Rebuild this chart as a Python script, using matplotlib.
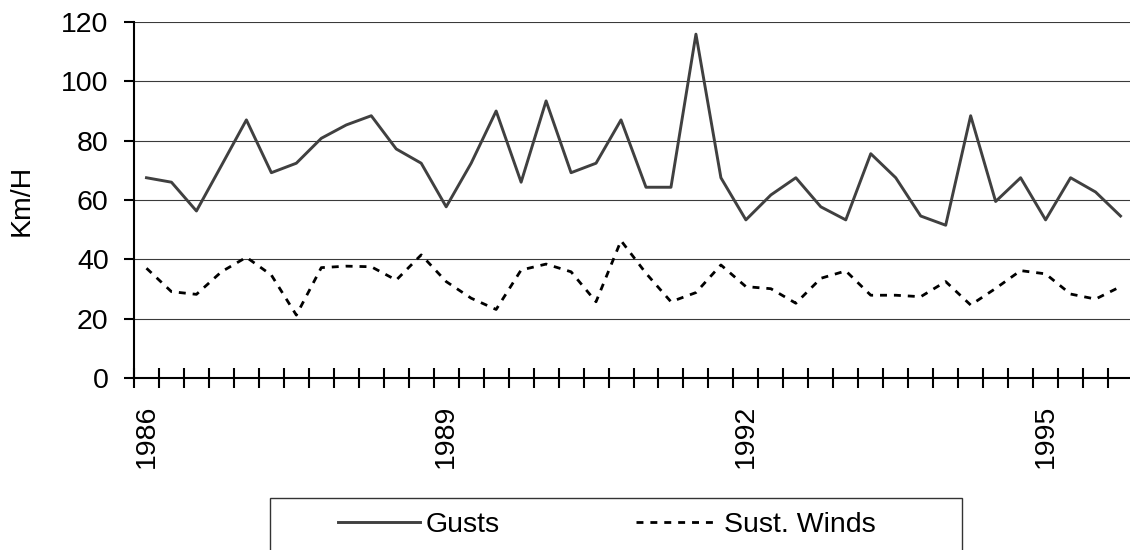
import matplotlib
matplotlib.use("Agg")
import matplotlib.pyplot as plt
from matplotlib.patches import Rectangle
from matplotlib.lines import Line2D
import numpy as np

plt.rcParams['font.family'] = ['Liberation Sans', 'DejaVu Sans']

# quarterly readings, 1986 - 1995 (40 quarters)
gusts = [67.5, 66.0, 56.3, 71.6, 87.0, 69.2, 72.4, 80.8, 85.3, 88.4,
         77.2, 72.4, 57.7, 72.4, 90.0, 66.0, 93.4, 69.2, 72.4, 87.0,
         64.3, 64.3, 115.9, 67.5, 53.3, 61.7, 67.5, 57.7, 53.3, 75.6,
         67.5, 54.6, 51.5, 88.4, 59.5, 67.5, 53.3, 67.5, 62.7, 54.6]
sust_winds = [37.0, 29.1, 28.2, 35.8, 40.7, 34.7, 21.2, 37.2, 37.7, 37.5,
              33.0, 41.5, 32.5, 26.9, 23.1, 36.4, 38.4, 35.8, 25.7, 46.3,
              35.3, 25.7, 28.8, 38.1, 30.8, 30.1, 25.2, 33.6, 36.1, 27.9,
              27.9, 27.4, 32.5, 24.6, 30.2, 36.2, 35.1, 28.3, 26.6, 30.8]
year_labels = ['1986', '1989', '1992', '1995']
label_every = 12

W, H = 1130, 550
FS = 20.5
DASH = (0, (2.5, 2.5))

fig = plt.figure(figsize=(W / 100, H / 100), dpi=100)
ax = fig.add_axes([134 / W, 1 - 378 / H, 999 / W, 356 / H])

x = np.arange(len(gusts))
ax.plot(x, gusts, color='#404040', lw=2.1)
ax.plot(x, sust_winds, color='black', lw=2.0, linestyle=DASH)

ax.set_xlim(-0.5, len(gusts) - 0.5)
ax.set_ylim(0, 120)
ax.set_yticks(range(0, 121, 20))
for v in range(20, 121, 20):
    ax.axhline(v, color='#3a3a3a', lw=0.8, zorder=0)

ax.set_xticks(x[::label_every])
ax.set_xticklabels(year_labels, rotation=90, fontsize=FS)
ax.set_xticks(np.arange(-0.5, len(gusts) + 0.5, 1), minor=True)
ax.tick_params(axis='x', which='major', length=0, pad=19)
ax.tick_params(axis='x', which='minor', direction='inout', length=14.4, width=1.5)
ax.tick_params(axis='y', direction='out', length=7.2, width=1.5, labelsize=FS, pad=11)

for s in ['top', 'right']:
    ax.spines[s].set_visible(False)
for s in ['left', 'bottom']:
    ax.spines[s].set_linewidth(1.5)

fig.text(22 / W, 1 - 200 / H, 'Km/H', rotation=90, ha='center', va='center', fontsize=FS)

# legend box (runs off the bottom edge)
fig.patches.append(Rectangle((270 / W, 1 - 570 / H), 692 / W, 72 / H,
                             transform=fig.transFigure, fill=False,
                             edgecolor='#333333', lw=1))
handles = [Line2D([], [], color='#404040', lw=2.1),
           Line2D([], [], color='black', lw=2.0, linestyle=DASH)]
fig.legend(handles, ['Gusts', 'Sust. Winds'], loc='center left',
           bbox_to_anchor=(338 / W, 1 - 525 / H), ncol=2, frameon=False,
           fontsize=FS, handlelength=2.88, handletextpad=0.21,
           columnspacing=4.77, borderpad=0, borderaxespad=0)

fig.savefig('out.png', dpi=100)
